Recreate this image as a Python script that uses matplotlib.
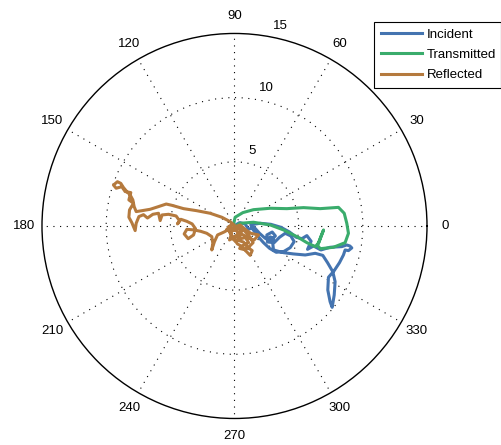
import numpy as np
import matplotlib
matplotlib.use('Agg')
import matplotlib.pyplot as plt
from matplotlib.lines import Line2D

plt.rcParams['font.family'] = ['Liberation Sans', 'DejaVu Sans']

# =============================================================================
#               DATOS (parte real e imaginaria de cada onda)
# =============================================================================

inc_re = [-0.03, 0.39, 0.83, 1.09, 1.53, 1.95, 2.39, 2.83, 3.19, 2.94, 2.52, 2.57,
          3.09, 3.51, 3.95, 4.39, 4.65, 4.34, 3.82, 3.25, 2.73, 2.26, 1.84, 1.43,
          1.27, 2.00, 2.83, 3.61, 4.29, 4.81, 5.25, 5.64, 5.97, 5.69, 6.16, 6.73,
          7.45, 8.36, 8.75, 8.99, 9.14, 8.88, 8.62, 8.49, 8.18, 7.77, 7.32, 7.27,
          7.45, 7.61, 7.77, 7.84, 7.66, 7.25, 6.88, 6.29, 5.51, 4.60, 3.82, 3.04,
          2.95, 2.75, 2.70, 2.90, 3.05, 2.80, 2.60]
inc_im = [0.00, 0.26, 0.16, -0.26, -0.10, -0.57, -0.96, -1.09, -0.78, -0.47, -0.70, -1.25,
          -1.30, -0.88, -0.57, -0.78, -1.22, -1.69, -2.00, -2.05, -1.74, -1.30, -0.83, -0.26,
          0.10, 0.21, 0.13, -0.10, -0.47, -0.88, -0.99, -0.75, -1.19, -1.82, -1.56, -1.87,
          -1.66, -1.61, -1.48, -1.56, -1.71, -1.92, -1.87, -2.26, -2.86, -3.48, -4.00, -4.99,
          -5.90, -6.34, -5.38, -4.34, -3.56, -2.86, -2.29, -2.13, -2.26, -2.18, -2.08, -1.87,
          -1.10, -0.95, -1.15, -1.22, -1.00, -0.85, -1.05]

tra_re = [-0.08, 0.05, 0.65, 1.48, 2.78, 4.08, 5.38, 6.68, 8.10, 8.55, 8.75, 8.88,
          8.62, 7.71, 6.68, 6.47, 6.73, 6.94, 6.57, 6.29, 5.64, 4.86, 3.82, 2.78,
          1.48, 0.44, 0.05]
tra_im = [0.08, 0.68, 1.04, 1.27, 1.38, 1.35, 1.43, 1.35, 1.45, 0.99, 0.21, -0.57,
          -1.30, -1.66, -1.77, -1.51, -0.83, -0.31, -1.30, -1.61, -1.30, -0.83, -0.31, 0.08,
          0.29, 0.21, -0.05]

ref_re = [0.05, -0.34, -0.99, -1.90, -2.94, -3.97, -4.88, -5.32, -5.92, -6.57, -7.22, -7.66,
          -7.82, -7.92, -8.13, -8.39, -8.65, -8.86, -9.12, -9.43, -9.22, -8.78, -8.52, -8.08,
          -8.23, -7.87, -8.18, -8.23, -8.00, -7.74, -7.66, -7.45, -7.09, -6.78, -6.36, -5.92,
          -5.79, -5.64, -5.14, -4.55, -4.29, -4.44, -4.18, -3.71, -3.30, -3.04, -3.19, -3.61,
          -3.92, -3.71, -3.14, -2.62, -2.16, -1.77, -1.69, -1.77, -1.56, -1.32, -0.81, -0.34,
          0.13, 0.49, 0.18, 0.70, 1.01, 1.38, 1.22, 0.91, 0.60, 0.23, -0.13, -0.39,
          -0.03, 0.44, 0.83, 1.27, 1.87, 1.53, 1.09, 0.70, 0.31, 0.05, -0.39, -0.21,
          -0.60, -0.21, -0.45, -0.10, 0.35, 0.55, 0.25, -0.20, 0.10, 0.45, 0.85, 1.10,
          0.75, 0.40, 0.80, 1.15, 1.45, 1.20, 0.80, 0.40, 0.05]
ref_im = [0.00, 0.34, 0.68, 0.99, 1.19, 1.35, 1.61, 1.71, 1.51, 1.30, 1.19, 1.12,
          1.51, 2.03, 2.42, 2.68, 2.99, 3.32, 3.45, 3.19, 2.94, 3.06, 2.68, 2.60,
          2.03, 1.77, 1.25, 0.68, 0.26, -0.36, 0.21, 0.73, 0.88, 0.62, 0.91, 0.99,
          0.42, 0.86, 0.91, 0.78, 0.42, 0.16, 0.52, 0.36, 0.16, -0.21, -0.70, -0.99,
          -0.62, -0.26, -0.31, -0.42, -0.57, -0.83, -1.35, -1.87, -1.22, -0.70, -0.47, -0.21,
          -0.36, -0.70, -1.09, -1.25, -1.66, -1.92, -2.29, -1.97, -1.61, -1.40, -0.88, -0.47,
          -0.10, 0.08, -0.26, -0.57, -0.70, -1.09, -0.96, -0.70, -0.57, -0.83, -1.09, -0.57,
          -0.26, 0.08, -0.05, -0.35, -0.20, -0.45, -0.75, -0.95, -1.20, -1.00, -0.90, -1.30,
          -1.45, -1.75, -1.85, -1.60, -1.30, -0.85, -0.40, -0.15, -0.25]

nombres = ['Incident', 'Transmitted', 'Reflected']
colores = ['#4474b0', '#3aac6c', '#b57a3e']

ang_ticks = np.arange(0, 360, 30)
r_ticks = [5, 10, 15]
r_max = 15


def a_polar(re, im):
    z = np.array(re) + 1j*np.array(im)
    return np.angle(z), np.abs(z)


# =============================================================================
#                              PLOTEO
# =============================================================================

fig = plt.figure(figsize=(5.01, 4.45), dpi=100)
ax = fig.add_axes([0.0838, 0.0596, 0.7685, 0.8652], projection='polar')

for re, im, c, n in zip([inc_re, tra_re, ref_re], [inc_im, tra_im, ref_im], colores, nombres):
    th, r = a_polar(re, im)
    ax.plot(th, r, color=c, lw=2.2, label=n)

ax.set_ylim(0, r_max)
ax.set_xticks(np.deg2rad(ang_ticks))
ax.set_yticks(r_ticks[:-1])
ax.set_xticklabels([])
ax.set_yticklabels([])
ax.grid(True, color='black', linestyle=(0, (1, 5)), lw=0.8)
ax.spines['polar'].set_color('black')
ax.spines['polar'].set_linewidth(1.0)

for a in ang_ticks:
    ax.text(np.deg2rad(a), r_max*1.093, str(a), ha='center', va='center',
            fontsize=9.5, clip_on=False)

for v in r_ticks:
    ax.text(np.deg2rad(77), v + 1.0, str(v), ha='center', va='center',
            fontsize=9.5, clip_on=False)

# leyenda arriba a la derecha, pegada al borde
handles = [Line2D([], [], color=c, lw=2.2) for c in colores]
leg = fig.legend(handles, nombres, loc='upper left',
                 bbox_to_anchor=(374/501, 1 - 87.3/445, 127/501, 65.6/445),
                 mode='expand', borderaxespad=0, fontsize=9.5, fancybox=False,
                 handlelength=3.1, handletextpad=0.38, labelspacing=0.62,
                 borderpad=0.5, framealpha=1)
leg.get_frame().set_edgecolor('black')
leg.get_frame().set_linewidth(0.8)

fig.savefig('out.png', dpi=100)
